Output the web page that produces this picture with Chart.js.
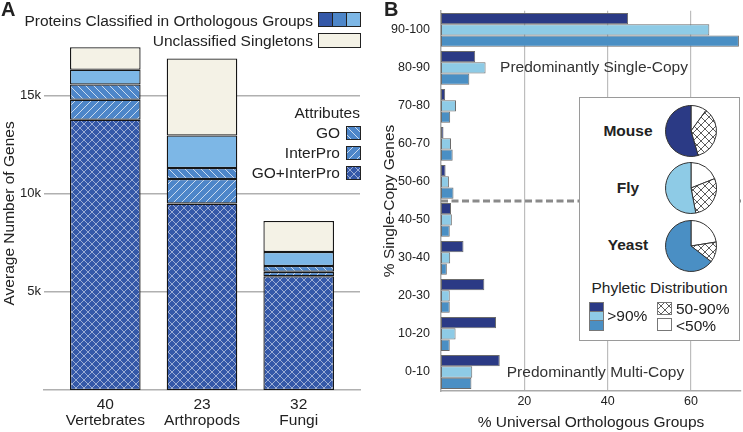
<!DOCTYPE html>
<html>
<head>
<meta charset="utf-8">
<script src="https://cdn.jsdelivr.net/npm/chart.js@4.4.1/dist/chart.umd.min.js"></script>
<style>
  body { margin:0; background:#fff; }
  #fig { position:relative; width:743px; height:432px; overflow:hidden; font-family:"Liberation Sans", Arial, sans-serif; color:#222; }
  #fig canvas { position:absolute; }
  .t { position:absolute; white-space:nowrap; line-height:1; font-size:15.5px; }
</style>
</head>
<body>
<div id="fig">
  <canvas id="chartA" width="370" height="432" style="left:0;top:0"></canvas>
  <canvas id="chartB" width="373" height="432" style="left:370px;top:0"></canvas>
  <div style="position:absolute;box-sizing:border-box;left:579px;top:97px;width:161px;height:244px;border:1.5px solid #9a9a9a;background:#fff"></div>
  <canvas id="pieMouse" width="52" height="52" style="left:665px;top:105px"></canvas>
  <canvas id="pieFly" width="52" height="52" style="left:665px;top:162px"></canvas>
  <canvas id="pieYeast" width="52" height="52" style="left:665px;top:220px"></canvas>
</div>
<script>
// panel A data
const groups = ['Vertebrates', 'Arthropods', 'Fungi'];
const genomeCounts = ['40', '23', '32'];
const goInterPro = [13770, 9500, 5800];
const interProOnly = [1020, 1250, 220];
const goOnly = [780, 560, 300];
const noAttr = [750, 1660, 710];
const singletons = [1150, 3930, 1580];
const yTicksA = [5000, 10000, 15000];

// panel B data
const bins = ['90-100', '80-90', '70-80', '60-70', '50-60', '40-50', '30-40', '20-30', '10-20', '0-10'];
const mouse = [44.9, 8.2, 1.0, 0.6, 1.1, 2.4, 5.4, 10.4, 13.2, 14.1];
const fly = [64.4, 10.7, 3.6, 2.4, 1.9, 2.6, 2.2, 2.1, 3.5, 7.5];
const yeast = [71.5, 6.8, 2.2, 2.8, 3.0, 2.1, 1.4, 2.1, 2.1, 7.3];
const xTicksB = [20, 40, 60];

// pies: <50%, 50-90%, >90%
const phyletic = ['<50%', '50-90%', '>90%'];
const pieMouse = [10, 35.5, 54.5];
const pieFly = [19, 28, 53];
const pieYeast = [22.5, 13, 64.5];

const family = '"Liberation Sans", Arial, sans-serif';
const fig = document.getElementById('fig');

const darkBlue = '#3458a8', midBlue = '#4d86c9', lightBlue = '#7db7e6', cream = '#f4f2e6';
const navy = '#2b3a85', skyB = '#8ecbe6', midB = '#4a8fc4';

function tile(bg, fg, kind, size, lw) {
  const c = document.createElement('canvas');
  c.width = c.height = size;
  const g = c.getContext('2d');
  g.fillStyle = bg; g.fillRect(0, 0, size, size);
  g.strokeStyle = fg; g.lineWidth = lw;
  g.beginPath();
  for (const k of [-size, 0, size]) {
    if (kind == 'back' || kind == 'cross') { g.moveTo(k, 0); g.lineTo(k + size, size); }
    if (kind == 'fwd' || kind == 'cross') { g.moveTo(k, size); g.lineTo(k + size, 0); }
  }
  g.stroke();
  return c;
}
const tCross = tile(darkBlue, 'rgba(255,255,255,0.5)', 'cross', 8, 1);
const tFwd = tile(midBlue, 'rgba(255,255,255,0.7)', 'fwd', 8, 1);
const tBack = tile(midBlue, 'rgba(255,255,255,0.7)', 'back', 8, 1);
const tPie = tile('#fff', '#333', 'cross', 8, 0.8);
const pat = t => t.getContext('2d').createPattern(t, 'repeat');

function txt(s, x, y, align, extra) {
  const d = document.createElement('div');
  d.className = 't';
  d.textContent = s;
  d.style.top = y + 'px';
  if (align == 'right') { d.style.right = (743 - x) + 'px'; d.style.transform = 'translateY(-50%)'; }
  else if (align == 'center') { d.style.left = x + 'px'; d.style.transform = 'translate(-50%,-50%)'; }
  else { d.style.left = x + 'px'; d.style.transform = 'translateY(-50%)'; }
  if (extra) Object.assign(d.style, extra);
  fig.appendChild(d);
}

function swatch(x, y, w, h, fill, stroke) {
  const c = document.createElement('canvas');
  c.width = w; c.height = h;
  c.style.left = x + 'px'; c.style.top = y + 'px';
  const g = c.getContext('2d');
  g.fillStyle = fill instanceof HTMLCanvasElement ? g.createPattern(fill, 'repeat') : fill;
  g.fillRect(0, 0, w, h);
  g.strokeStyle = stroke; g.lineWidth = 1;
  g.strokeRect(0.5, 0.5, w - 1, h - 1);
  fig.appendChild(c);
}

const pts = arr => arr.map((v, i) => ({x: i, y: v}));

// ---- panel A ----
new Chart(document.getElementById('chartA'), {
  type: 'bar',
  data: {
    datasets: [
      {label: 'GO+InterPro', data: pts(goInterPro), backgroundColor: pat(tCross)},
      {label: 'InterPro', data: pts(interProOnly), backgroundColor: pat(tFwd)},
      {label: 'GO', data: pts(goOnly), backgroundColor: pat(tBack)},
      {label: 'Classified', data: pts(noAttr), backgroundColor: lightBlue},
      {label: 'Unclassified Singletons', data: pts(singletons), backgroundColor: cream}
    ]
  },
  options: {
    responsive: false,
    animation: false,
    devicePixelRatio: 1,
    layout: {padding: {top: 36.8, right: 10, left: 0, bottom: 0}},
    plugins: {legend: {display: false}, tooltip: {enabled: false}},
    datasets: {bar: {barPercentage: 0.73, categoryPercentage: 1, borderColor: '#161616', borderWidth: 1.3, borderSkipped: false}},
    scales: {
      x: {
        type: 'linear', stacked: true, offset: false, min: -0.634, max: 2.634,
        grid: {display: false, drawTicks: false},
        border: {color: '#b0b0b0', width: 1.5},
        afterBuildTicks: s => { s.ticks = groups.map((g, i) => ({value: i})); },
        afterFit: s => { s.height = 42; },
        ticks: {padding: 6, color: '#222', maxRotation: 0, autoSkip: false, font: {size: 15.5, family: family, lineHeight: 1.08},
          callback: v => [genomeCounts[v], groups[v]]}
      },
      y: {
        stacked: true, min: 0, max: 18000,
        border: {display: false},
        grid: {color: '#b0b0b0', lineWidth: 1.5, drawTicks: false},
        afterBuildTicks: s => { s.ticks = yTicksA.map(v => ({value: v})); },
        afterFit: s => { s.width = 44; },
        ticks: {padding: 3, color: '#222', font: {size: 13, family: family}, callback: v => (v / 1000) + 'k'},
        title: {display: true, text: 'Average Number of Genes', color: '#222', font: {size: 15.5, family: family}, padding: {top: 0, bottom: 0}}
      }
    }
  }
});

// ---- panel B ----
const splitAt = bins.indexOf('50-60') + 0.5;
const dividerPlugin = {
  id: 'divider',
  afterDatasetsDraw(chart) {
    const {ctx, chartArea, scales} = chart;
    const yy = scales.y.getPixelForValue(splitAt);
    ctx.save();
    ctx.strokeStyle = '#8a8a8a';
    ctx.lineWidth = 3;
    ctx.setLineDash([7, 3.5]);
    ctx.beginPath();
    ctx.moveTo(chartArea.left, yy);
    ctx.lineTo(chartArea.right, yy);
    ctx.stroke();
    ctx.restore();
  }
};

new Chart(document.getElementById('chartB'), {
  type: 'bar',
  data: {
    labels: bins,
    datasets: [
      {label: 'Mouse', data: mouse, backgroundColor: navy},
      {label: 'Fly', data: fly, backgroundColor: skyB},
      {label: 'Yeast', data: yeast, backgroundColor: midB}
    ]
  },
  options: {
    indexAxis: 'y',
    responsive: false,
    animation: false,
    devicePixelRatio: 1,
    layout: {padding: {top: 10.8, right: 2, left: 0, bottom: 0}},
    plugins: {legend: {display: false}, tooltip: {enabled: false}},
    datasets: {bar: {barPercentage: 1, categoryPercentage: 0.89, borderColor: '#6b6b6b', borderWidth: 1, borderSkipped: false}},
    scales: {
      x: {
        type: 'linear', min: 0, max: 72,
        grid: {color: '#bdbdbd', lineWidth: 1.2, drawTicks: false},
        border: {color: '#aaa', width: 1.5},
        afterBuildTicks: s => { s.ticks = xTicksB.map(v => ({value: v})); },
        afterFit: s => { s.height = 41; },
        ticks: {padding: 3, color: '#222', font: {size: 12.5, family: family}},
        title: {display: true, text: '% Universal Orthologous Groups', color: '#222', font: {size: 15.5, family: family}, padding: {top: 0, bottom: 0}}
      },
      y: {
        grid: {display: false},
        border: {color: '#aaa', width: 1.5},
        afterFit: s => { s.width = 71; },
        ticks: {padding: 3, color: '#222', font: {size: 12.5, family: family}},
        title: {display: true, text: '% Single-Copy Genes', color: '#222', font: {size: 15.5, family: family}, padding: {top: 10, bottom: 0}}
      }
    }
  },
  plugins: [dividerPlugin]
});

function pie(id, values, color) {
  new Chart(document.getElementById(id), {
    type: 'pie',
    data: {labels: phyletic, datasets: [{data: values, backgroundColor: ['#fff', pat(tPie), color], borderColor: '#333', borderWidth: 1}]},
    options: {responsive: false, animation: false, devicePixelRatio: 1, layout: {padding: 0},
      plugins: {legend: {display: false}, tooltip: {enabled: false}}}
  });
}
pie('pieMouse', pieMouse, navy);
pie('pieFly', pieFly, skyB);
pie('pieYeast', pieYeast, midB);

// ---- legends & labels ----
txt('A', 1, 9, 'left', {fontWeight: 'bold', fontSize: '20px'});
txt('B', 384, 9, 'left', {fontWeight: 'bold', fontSize: '20px'});

txt('Proteins Classified in Orthologous Groups', 313, 20.5, 'right');
swatch(318, 12, 15, 15, darkBlue, '#222');
swatch(332, 12, 15, 15, midBlue, '#222');
swatch(346, 12, 15, 15, lightBlue, '#222');
txt('Unclassified Singletons', 313, 40.5, 'right');
swatch(318, 33, 43, 15, cream, '#222');

txt('Attributes', 360, 112.5, 'right');
txt('GO', 340, 132.5, 'right');
swatch(346, 126, 15, 14, tBack, '#222');
txt('InterPro', 340, 152.5, 'right');
swatch(346, 146, 15, 14, tFwd, '#222');
txt('GO+InterPro', 340, 172.5, 'right');
swatch(346, 166, 15, 14, tCross, '#222');

txt('Predominantly Single-Copy', 594, 67, 'center', {color: '#333'});
txt('Predominantly Multi-Copy', 595.5, 372.3, 'center', {color: '#333'});

txt('Mouse', 628, 130.5, 'center', {fontWeight: 'bold'});
txt('Fly', 628, 188, 'center', {fontWeight: 'bold'});
txt('Yeast', 628, 244.5, 'center', {fontWeight: 'bold'});

txt('Phyletic Distribution', 659.5, 287.7, 'center');
swatch(589, 302, 15, 10, navy, '#777');
swatch(589, 311, 15, 10, skyB, '#777');
swatch(589, 320, 15, 11, midB, '#777');
txt('>90%', 607.3, 316, 'left');
swatch(657, 302, 15, 13, tPie, '#777');
txt('50-90%', 676, 309, 'left');
swatch(657, 318, 15, 13, '#fff', '#777');
txt('<50%', 676, 325.5, 'left');
</script>
</body>
</html>
